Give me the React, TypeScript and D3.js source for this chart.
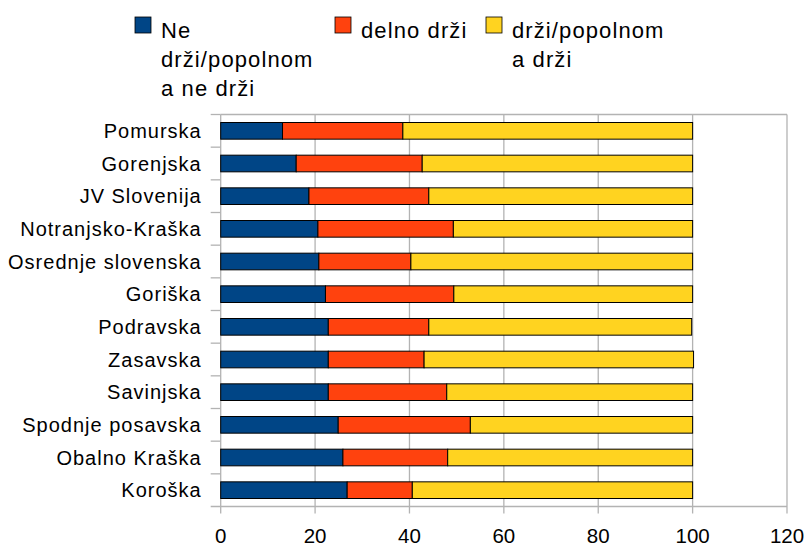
import React from 'react';
import * as d3 from 'd3';

const regions = [
  'Pomurska',
  'Gorenjska',
  'JV Slovenija',
  'Notranjsko-Kraška',
  'Osrednje slovenska',
  'Goriška',
  'Podravska',
  'Zasavska',
  'Savinjska',
  'Spodnje posavska',
  'Obalno Kraška',
  'Koroška'
];
const neDrzi = [13.1, 16.0, 18.7, 20.6, 20.8, 22.2, 22.8, 22.8, 22.8, 24.9, 25.9, 26.8];
const delnoDrzi = [25.5, 26.7, 25.4, 28.7, 19.5, 27.2, 21.3, 20.3, 25.1, 28.0, 22.2, 13.8];
const drzi = [61.4, 57.3, 55.9, 50.7, 59.7, 50.6, 55.7, 57.1, 52.1, 47.1, 51.9, 59.4];
const xTicks = [0, 20, 40, 60, 80, 100, 120];

const seriesNames = ['Ne|drži/popolnom|a ne drži', 'delno drži', 'drži/popolnom|a drži'];
const colors = ['#004586', '#ff420e', '#ffd320'];

const W = 805;
const H = 549;
const margin = { top: 114.5, right: 18, bottom: 42.5, left: 220.7 };

export default function App() {
  const width = W - margin.left - margin.right;
  const height = H - margin.top - margin.bottom;

  const x = d3.scaleLinear().domain([0, 120]).range([0, width]);
  const y = d3.scaleBand().domain(regions).range([0, height]).paddingInner(0.49).paddingOuter(0.245);

  const rows = regions.map((r, i) => ({ region: r, a: neDrzi[i], b: delnoDrzi[i], c: drzi[i] }));
  const stacked = d3.stack<any>().keys(['a', 'b', 'c'])(rows);

  const font = '"Liberation Sans", Arial, sans-serif';
  const legendX = [135, 335, 486];

  return (
    <svg width={W} height={H} style={{ position: 'absolute', left: 0, top: 0 }} fontFamily={font}>
      <rect width={W} height={H} fill="#fff" />
      {/* legend */}
      {seriesNames.map((name, i) => (
        <g key={name} transform={`translate(${legendX[i]},17)`}>
          <rect x={0} y={0} width={16} height={16} fill={colors[i]} stroke="#000" strokeWidth={0.8} />
          {name.split('|').map((line, j) => (
            <text key={j} x={26} y={20.5 + j * 29} fontSize={22} letterSpacing={1.1} fill="#000">
              {line}
            </text>
          ))}
        </g>
      ))}
      <g transform={`translate(${margin.left},${margin.top})`}>
        {/* gridlines */}
        {xTicks.map(t => (
          <line key={t} x1={x(t)} x2={x(t)} y1={0} y2={height + 7} stroke="#b3b3b3" strokeWidth={1.3} />
        ))}
        <line x1={0} x2={width} y1={0} y2={0} stroke="#b3b3b3" strokeWidth={1.3} />
        <line x1={-10} x2={width} y1={height} y2={height} stroke="#b3b3b3" strokeWidth={1.3} />
        {/* y ticks at band boundaries */}
        {d3.range(regions.length).map(i => (
          <line
            key={i}
            x1={-10}
            x2={0}
            y1={(height / regions.length) * i}
            y2={(height / regions.length) * i}
            stroke="#b3b3b3"
            strokeWidth={1.3}
          />
        ))}
        {stacked.map((s, si) =>
          s.map((d, i) => (
            <rect
              key={si + '-' + i}
              x={x(d[0])}
              y={y(regions[i])}
              width={x(d[1]) - x(d[0])}
              height={y.bandwidth()}
              fill={colors[si]}
              stroke="#000"
              strokeWidth={1}
            />
          ))
        )}
        {regions.map(r => (
          <text
            key={r}
            x={-19}
            y={(y(r) as number) + y.bandwidth() / 2}
            dy="0.35em"
            textAnchor="end"
            fontSize={20}
            letterSpacing={1}
            fill="#000"
          >
            {r}
          </text>
        ))}
        {xTicks.map(t => (
          <text key={t} x={x(t)} y={height + 36.5} textAnchor="middle" fontSize={20.5} fill="#000">
            {t}
          </text>
        ))}
      </g>
    </svg>
  );
}
